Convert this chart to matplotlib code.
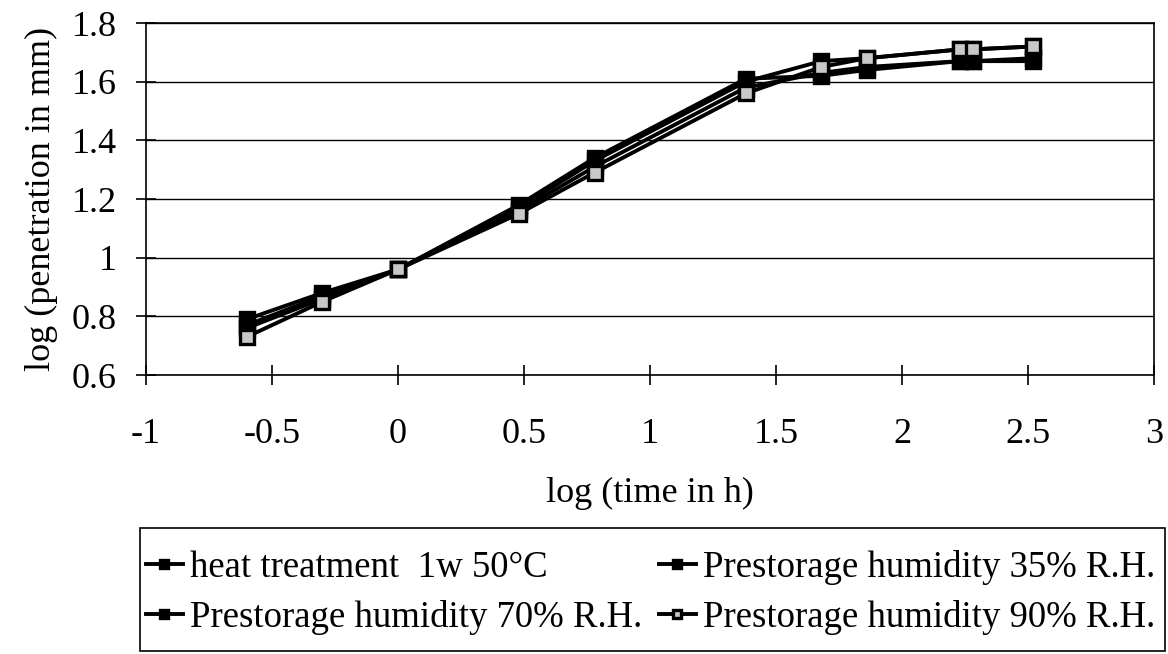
import matplotlib
matplotlib.use("Agg")
import matplotlib.pyplot as plt
from matplotlib.patches import Rectangle

plt.rcParams['font.family'] = ['Liberation Serif', 'DejaVu Serif']

# log (time in h)
log_time = [-0.6, -0.3, 0.0, 0.48, 0.78, 1.38, 1.68, 1.86, 2.23, 2.28, 2.52]

# log (penetration in mm) for each treatment
heat_1w50 = [0.79, 0.88, 0.96, 1.18, 1.34, 1.61, 1.62, 1.64, 1.67, 1.67, 1.67]
rh35 = [0.77, 0.87, 0.96, 1.17, 1.33, 1.60, 1.67, 1.68, 1.71, 1.71, 1.72]
rh70 = [0.76, 0.86, 0.96, 1.16, 1.31, 1.58, 1.63, 1.65, 1.67, 1.67, 1.68]
rh90 = [0.73, 0.85, 0.96, 1.15, 1.29, 1.56, 1.65, 1.68, 1.71, 1.71, 1.72]

labels = ["heat treatment  1w 50°C",
          "Prestorage humidity 35% R.H.",
          "Prestorage humidity 70% R.H.",
          "Prestorage humidity 90% R.H."]

W, H = 1168, 654
fig = plt.figure(figsize=(W/100, H/100), dpi=100)
ax = fig.add_axes([146/W, 1 - 375/H, (1154 - 146)/W, (375 - 23)/H])

series = [heat_1w50, rh35, rh70, rh90]
faces = ['black', 'black', 'black', '#c8c8c8']
lines = []
for ys, fc, lab in zip(series, faces, labels):
    ln, = ax.plot(log_time, ys, color='black', lw=2.8, marker='s', ms=10,
                  mfc=fc, mec='black', mew=2.4, label=lab)
    lines.append(ln)

ax.set_xlim(-1, 3)
ax.set_ylim(0.6, 1.8)
ax.set_xticks([-1, -0.5, 0, 0.5, 1, 1.5, 2, 2.5, 3])
ax.set_xticklabels(['-1', '-0.5', '0', '0.5', '1', '1.5', '2', '2.5', '3'])
ax.set_yticks([0.6, 0.8, 1.0, 1.2, 1.4, 1.6, 1.8])
ax.set_yticklabels(['0.6', '0.8', '1', '1.2', '1.4', '1.6', '1.8'])
ax.yaxis.grid(True, color='black', lw=1)
ax.set_axisbelow(True)
ax.tick_params(axis='x', direction='inout', length=14, width=1.2, pad=24, labelsize=26)
ax.tick_params(axis='y', direction='inout', length=14, width=1.2, pad=14, labelsize=26)
for s in ax.spines.values():
    s.set_color('black')
    s.set_linewidth(1.2)

ax.set_xlabel('log (time in h)', fontsize=26, labelpad=19)
ax.set_ylabel('log (penetration in mm)', fontsize=26, labelpad=10)

# legend is filled row by row in the reference; box drawn separately
order = [0, 2, 1, 3]
leg = fig.legend([lines[i] for i in order], [labels[i] for i in order],
                 loc='upper left', bbox_to_anchor=(146/W, 1 - 550/H),
                 ncol=2, fontsize=26.5, frameon=False, markerscale=0.6,
                 handlelength=1.0, handletextpad=0.2, columnspacing=0.45,
                 borderpad=0, labelspacing=0.4, borderaxespad=0)
fig.patches.append(Rectangle((140/W, 1 - 651/H), (1165 - 140)/W, (651 - 528)/H,
                             transform=fig.transFigure, fill=False,
                             edgecolor='black', lw=1.2))

fig.savefig('out.png', dpi=100)
